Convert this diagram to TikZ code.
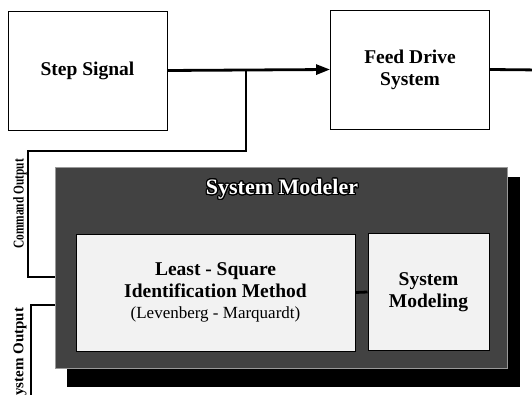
\documentclass[tikz,border=0pt]{standalone}
\usepackage{fontspec}
\setmainfont{Liberation Serif}
\usepackage{contour}
\usetikzlibrary{arrows.meta}

\contourlength{1.1pt}
\contournumber{24}

\tikzset{
  block/.style={draw, line width=0.9pt, fill=white, minimum width=159pt,
    minimum height=119pt, align=center,
    font=\bfseries\fontsize{19.5}{22}\selectfont},
  inbox/.style={draw, line width=1pt, fill=black!5, align=center,
    minimum height=117pt, font=\bfseries\fontsize{19.5}{22}\selectfont},
  wire/.style={line width=2.8pt},
  sidelabel/.style={rotate=90, font=\bfseries\fontsize{15}{15}\selectfont},
}

\begin{document}
\begin{tikzpicture}[x=1pt, y=-1pt]
    \useasboundingbox (0,0) rectangle (532,395);

    % Bloques de arriba
    \node[block] (step) at (87.5,70.5) {Step Signal};
    \node[block] (feed) at (410,69.5) {Feed Drive\\System};

    % Sombra y caja del modelador
    \fill[black] (67,177) rectangle (520,387);
    \node[draw=black!40, fill=black!74, minimum width=452pt,
          minimum height=201pt] (modeler) at (281,267.5) {};
    \node[text=white, font=\bfseries\fontsize{22}{22}\selectfont]
          (mtitle) at (282,190) {\contour{black}{System Modeler}};

    \node[inbox, minimum width=279pt] (lsq) at (215.5,292.5)
          {Least - Square\\Identification Method\\[-1pt]
           {\mdseries\fontsize{17}{19}\selectfont (Levenberg - Marquardt)}};
    \node[inbox, minimum width=121pt] (smod) at (428.5,292)
          {System\\Modeling};

    % Conexiones
    \coordinate (tap) at (246,70);
    \coordinate (bend) at (28,151);
    \coordinate (cmdin) at (55,277);
    \coordinate (sysin) at (55,305);
    \coordinate (sysbot) at (31,400);
    \coordinate (out) at (540,70);

    \draw[wire, -{Triangle[length=14pt,width=10pt]}] (step.east) -- (feed.west);
    \draw[wire] (feed.east) -- (out);
    \draw[wire] (tap) |- (bend) |- (cmdin);
    \draw[wire] (sysbot) |- (sysin);
    \draw[wire] (lsq.east) -- (smod.west);

    % Etiquetas de las señales
    \node[sidelabel] (cmdlabel) at (20,204)
          {\scalebox{0.76}[1]{Command Output}};
    \node[sidelabel] (syslabel) at (20,356) {System Output};
\end{tikzpicture}
\end{document}
